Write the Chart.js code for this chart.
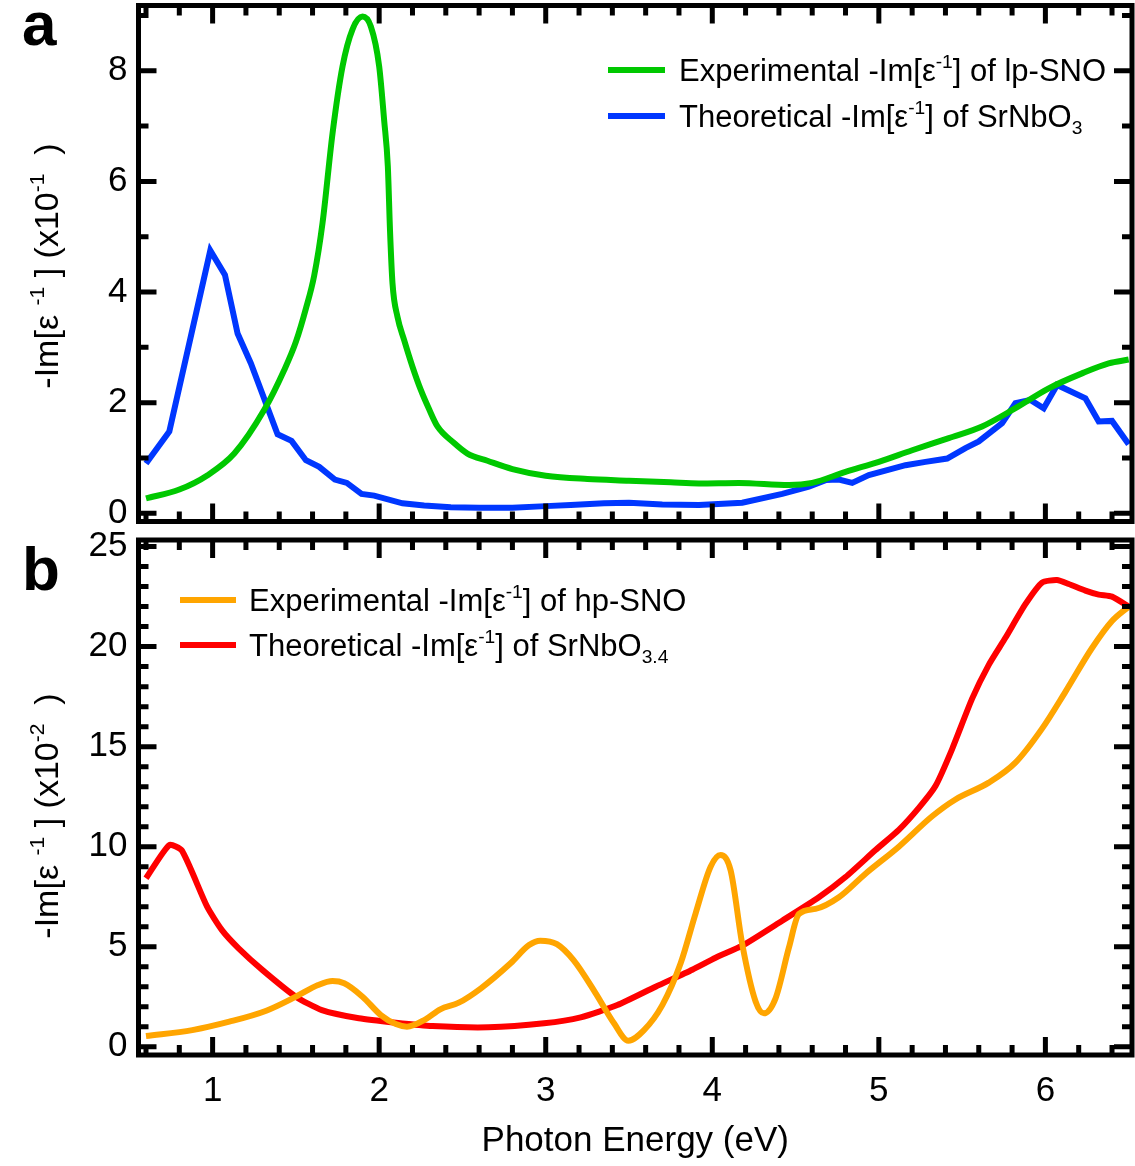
<!DOCTYPE html>
<html>
<head>
<meta charset="utf-8">
<script src="https://cdn.jsdelivr.net/npm/chart.js@4.4.0/dist/chart.umd.min.js"></script>
<style>
  body { margin: 0; background: #fff; }
  #wrap { position: relative; width: 1135px; height: 1166px; }
  #chartA { position: absolute; left: 0; top: 0; }
  #chartB { position: absolute; left: 0; top: 531px; }
</style>
</head>
<body>
<div id="wrap">
  <canvas id="chartA" width="1135" height="531"></canvas>
  <canvas id="chartB" width="1135" height="635"></canvas>
</div>
<script>
const FONT = '"Liberation Sans", Arial, Helvetica, sans-serif';

// shared energy axis (eV)
const energyTicks = [1, 2, 3, 4, 5, 6];
const energyMin = 0.555;
const energyMax = 6.52;

// panel a : -Im[1/eps] in units of 1e-1
const lossTicksA = [0, 2, 4, 6, 8];
const lpExpEnergy = [0.6, 0.8, 0.97, 1.13, 1.31, 1.43, 1.5, 1.56, 1.61, 1.66, 1.72, 1.78, 1.84, 1.90, 1.95, 2.0, 2.03, 2.052, 2.065, 2.08, 2.11, 2.15, 2.2, 2.25, 2.3, 2.35, 2.45, 2.53, 2.65, 2.8, 3.0, 3.25, 3.5, 3.75, 3.92, 4.16, 4.46, 4.6, 4.8, 5.0, 5.2, 5.42, 5.62, 5.82, 6.02, 6.22, 6.38, 6.5];
const lpExpLoss = [0.27, 0.43, 0.69, 1.08, 1.87, 2.59, 3.1, 3.7, 4.3, 5.25, 6.87, 8.08, 8.75, 8.98, 8.8, 8.08, 7.1, 6.27, 5.12, 4.16, 3.55, 3.13, 2.65, 2.23, 1.88, 1.57, 1.27, 1.08, 0.95, 0.8, 0.68, 0.62, 0.59, 0.56, 0.54, 0.55, 0.51, 0.55, 0.75, 0.93, 1.14, 1.36, 1.57, 1.90, 2.26, 2.53, 2.71, 2.78];
const sno3Energy = [0.6, 0.74, 0.986, 1.074, 1.15, 1.23, 1.39, 1.474, 1.56, 1.64, 1.734, 1.806, 1.894, 1.97, 2.14, 2.27, 2.43, 2.6, 2.8, 3.0, 3.15, 3.35, 3.5, 3.7, 3.92, 4.18, 4.42, 4.58, 4.68, 4.76, 4.84, 4.94, 5.16, 5.28, 5.41, 5.52, 5.60, 5.74, 5.82, 5.91, 5.99, 6.07, 6.24, 6.32, 6.40, 6.5];
const sno3Loss = [0.90, 1.48, 4.75, 4.31, 3.25, 2.71, 1.43, 1.31, 0.96, 0.84, 0.61, 0.55, 0.35, 0.32, 0.18, 0.14, 0.11, 0.1, 0.1, 0.13, 0.15, 0.18, 0.19, 0.16, 0.15, 0.19, 0.35, 0.48, 0.60, 0.61, 0.55, 0.69, 0.87, 0.93, 0.99, 1.18, 1.30, 1.63, 1.99, 2.05, 1.90, 2.32, 2.08, 1.66, 1.67, 1.25];

// panel b : -Im[1/eps] in units of 1e-2
const lossTicksB = [0, 5, 10, 15, 20, 25];
const hpExpEnergy = [0.6, 0.878, 1.1, 1.322, 1.5, 1.633, 1.72, 1.79, 1.9, 2.01, 2.1, 2.167, 2.278, 2.367, 2.478, 2.611, 2.789, 2.9, 2.967, 3.067, 3.167, 3.3, 3.41, 3.496, 3.59, 3.7, 3.81, 3.9, 3.99, 4.05, 4.11, 4.18, 4.26, 4.31, 4.38, 4.46, 4.52, 4.62, 4.76, 4.92, 5.12, 5.32, 5.46, 5.66, 5.82, 5.98, 6.12, 6.28, 6.40, 6.5];
const hpExpLoss = [0.53, 0.83, 1.25, 1.8, 2.5, 3.08, 3.28, 3.17, 2.5, 1.58, 1.13, 1.0, 1.37, 1.87, 2.2, 2.92, 4.17, 5.08, 5.3, 5.13, 4.33, 2.67, 1.17, 0.3, 0.83, 2.08, 4.17, 6.67, 9.0, 9.58, 8.82, 5.12, 2.26, 1.67, 2.42, 4.95, 6.63, 6.89, 7.47, 8.65, 10.0, 11.52, 12.36, 13.2, 14.2, 15.9, 17.74, 19.93, 21.28, 22.0];
const sno34Energy = [0.6, 0.74, 0.816, 0.967, 1.056, 1.156, 1.30, 1.50, 1.656, 1.878, 2.10, 2.32, 2.656, 2.99, 3.21, 3.43, 3.66, 3.88, 4.02, 4.18, 4.42, 4.64, 4.80, 4.98, 5.12, 5.24, 5.34, 5.44, 5.56, 5.66, 5.76, 5.88, 5.98, 6.07, 6.14, 6.24, 6.32, 6.40, 6.5];
const sno34Loss = [8.42, 10.08, 9.8, 7.0, 5.83, 4.92, 3.83, 2.5, 1.83, 1.42, 1.2, 1.03, 0.97, 1.17, 1.47, 2.08, 3.0, 3.85, 4.45, 5.05, 6.30, 7.47, 8.48, 9.83, 10.84, 11.94, 13.03, 14.88, 17.4, 19.09, 20.44, 22.12, 23.2, 23.33, 23.13, 22.8, 22.6, 22.5, 22.0];

Chart.defaults.color = '#000';
Chart.defaults.font.family = FONT;

function toPoints(energy, loss) {
   return energy.map((e, i) => ({ x: e, y: loss[i] }));
}

function richWidth(ctx, parts, size) {
   let w = 0;
   for (const [t, k] of parts) {
      ctx.font = (k ? size * 0.62 : size) + 'px ' + FONT;
      w += ctx.measureText(t).width;
   }
   return w;
}

function drawRich(ctx, parts, x, y, size) {
   for (const [t, k] of parts) {
      const s = k ? size * 0.62 : size;
      ctx.font = s + 'px ' + FONT;
      let dy = 0;
      if (k === 'sup') dy = -size * 0.42;
      if (k === 'sub') dy = size * 0.22;
      ctx.fillText(t, x, y + dy);
      x += ctx.measureText(t).width;
   }
}

// no extra room for half-labels at the ends of an axis
function noEndPadding(s) {
   s.paddingTop = 0;
   s.paddingBottom = 0;
   s.paddingLeft = 0;
   s.paddingRight = 0;
}

// closed frame with inward ticks on all four sides
const frameTicks = {
   id: 'frameTicks',
   afterDatasetsDraw(chart, args, o) {
      const { ctx, chartArea: a, scales: { x, y } } = chart;
      ctx.save();
      ctx.strokeStyle = '#000';
      ctx.lineWidth = 5;
      ctx.beginPath();
      for (let k = Math.ceil(x.min * 5); k <= Math.floor(x.max * 5); k++) {
         const px = x.getPixelForValue(k / 5);
         const len = k % 5 === 0 ? 18 : 10;
         ctx.moveTo(px, a.bottom); ctx.lineTo(px, a.bottom - len);
         ctx.moveTo(px, a.top); ctx.lineTo(px, a.top + len);
      }
      for (let k = Math.ceil(y.min); k <= Math.floor(y.max); k++) {
         const py = y.getPixelForValue(k);
         const len = k % o.major === 0 ? 18 : 10;
         ctx.moveTo(a.left, py); ctx.lineTo(a.left + len, py);
         ctx.moveTo(a.right, py); ctx.lineTo(a.right - len, py);
      }
      ctx.stroke();
      ctx.strokeRect(a.left, a.top, a.right - a.left, a.bottom - a.top);
      ctx.restore();
   }
};

// panel letter, rotated y title and legend
const panelDeco = {
   id: 'panelDeco',
   afterDraw(chart, args, o) {
      const ctx = chart.ctx;
      ctx.save();
      ctx.fillStyle = '#000';
      ctx.textBaseline = 'alphabetic';
      ctx.textAlign = 'left';
      ctx.font = 'bold 62px ' + FONT;
      ctx.fillText(o.letter, o.letterX, o.letterY);

      ctx.save();
      ctx.translate(o.titleX, o.titleY);
      ctx.rotate(-Math.PI / 2);
      const w = richWidth(ctx, o.title, 34);
      drawRich(ctx, o.title, -w / 2, 0, 34);
      ctx.restore();

      o.legend.forEach((item, i) => {
         const ly = o.legendY + i * o.legendGap;
         ctx.strokeStyle = item.color;
         ctx.lineWidth = 6;
         ctx.beginPath();
         ctx.moveTo(o.legendX0, ly);
         ctx.lineTo(o.legendX1, ly);
         ctx.stroke();
         drawRich(ctx, item.parts, o.legendTX, ly + 0.36 * 31, 31);
      });
      ctx.restore();
   }
};

function lineSet(label, data, color, mode, tension) {
   return {
      label: label,
      data: data,
      borderColor: color,
      borderWidth: 6,
      pointRadius: 0,
      fill: false,
      tension: tension,
      cubicInterpolationMode: mode
   };
}

function yScale(min, max, ticks) {
   return {
      type: 'linear',
      min: min,
      max: max,
      afterBuildTicks: s => { s.ticks = ticks.map(v => ({ value: v })); },
      afterFit: s => { s.width = 138.5; noEndPadding(s); },
      grid: { display: false, drawTicks: false },
      border: { display: false },
      ticks: { font: { size: 35 }, padding: 11, autoSkip: false }
   };
}

new Chart(document.getElementById('chartA'), {
   type: 'line',
   data: {
      datasets: [
         lineSet('Experimental lp-SNO', toPoints(lpExpEnergy, lpExpLoss), '#00c800', 'monotone', 0.4),
         lineSet('Theoretical SrNbO3', toPoints(sno3Energy, sno3Loss), '#0037ff', 'default', 0)
      ]
   },
   options: {
      responsive: false,
      animation: false,
      layout: { padding: { left: 0, right: 3, top: 5.5, bottom: 9.5 } },
      scales: {
         x: {
            type: 'linear', min: energyMin, max: energyMax, display: false,
            afterFit: s => { s.height = 0; noEndPadding(s); }
         },
         y: yScale(-0.148, 9.18, lossTicksA)
      },
      plugins: {
         legend: { display: false },
         tooltip: { enabled: false },
         frameTicks: { major: 2 },
         panelDeco: {
            letter: 'a', letterX: 22, letterY: 45,
            title: [['-Im[\u03b5 ', ''], ['-1', 'sup'], [' ] (x10', ''], ['-1', 'sup'], ['  )', '']],
            titleX: 58, titleY: 266,
            legendX0: 608, legendX1: 665, legendTX: 679, legendY: 70, legendGap: 46,
            legend: [
               { color: '#00c800', parts: [['Experimental -Im[\u03b5', ''], ['-1', 'sup'], ['] of lp-SNO', '']] },
               { color: '#0037ff', parts: [['Theoretical -Im[\u03b5', ''], ['-1', 'sup'], ['] of SrNbO', ''], ['3', 'sub']] }
            ]
         }
      }
   },
   plugins: [frameTicks, panelDeco]
});

new Chart(document.getElementById('chartB'), {
   type: 'line',
   data: {
      datasets: [
         lineSet('Experimental hp-SNO', toPoints(hpExpEnergy, hpExpLoss), '#ffa500', 'monotone', 0.4),
         lineSet('Theoretical SrNbO3.4', toPoints(sno34Energy, sno34Loss), '#ff0000', 'default', 0.2)
      ]
   },
   options: {
      responsive: false,
      animation: false,
      layout: { padding: { left: 0, right: 3, top: 9, bottom: 0 } },
      scales: {
         x: {
            type: 'linear', min: energyMin, max: energyMax,
            afterBuildTicks: s => { s.ticks = energyTicks.map(v => ({ value: v })); },
            afterFit: s => { s.height = 111; noEndPadding(s); },
            grid: { display: false, drawTicks: false },
            border: { display: false },
            ticks: { font: { size: 35 }, padding: 15, autoSkip: false, maxRotation: 0 },
            title: { display: true, text: 'Photon Energy (eV)', font: { size: 35 }, padding: { top: 0, bottom: 4 } }
         },
         y: yScale(-0.415, 25.33, lossTicksB)
      },
      plugins: {
         legend: { display: false },
         tooltip: { enabled: false },
         frameTicks: { major: 5 },
         panelDeco: {
            letter: 'b', letterX: 22, letterY: 59,
            title: [['-Im[\u03b5 ', ''], ['-1', 'sup'], [' ] (x10', ''], ['-2', 'sup'], ['  )', '']],
            titleX: 58, titleY: 285,
            legendX0: 180, legendX1: 236, legendTX: 249, legendY: 69, legendGap: 45,
            legend: [
               { color: '#ffa500', parts: [['Experimental -Im[\u03b5', ''], ['-1', 'sup'], ['] of hp-SNO', '']] },
               { color: '#ff0000', parts: [['Theoretical -Im[\u03b5', ''], ['-1', 'sup'], ['] of SrNbO', ''], ['3.4', 'sub']] }
            ]
         }
      }
   },
   plugins: [frameTicks, panelDeco]
});
</script>
</body>
</html>
